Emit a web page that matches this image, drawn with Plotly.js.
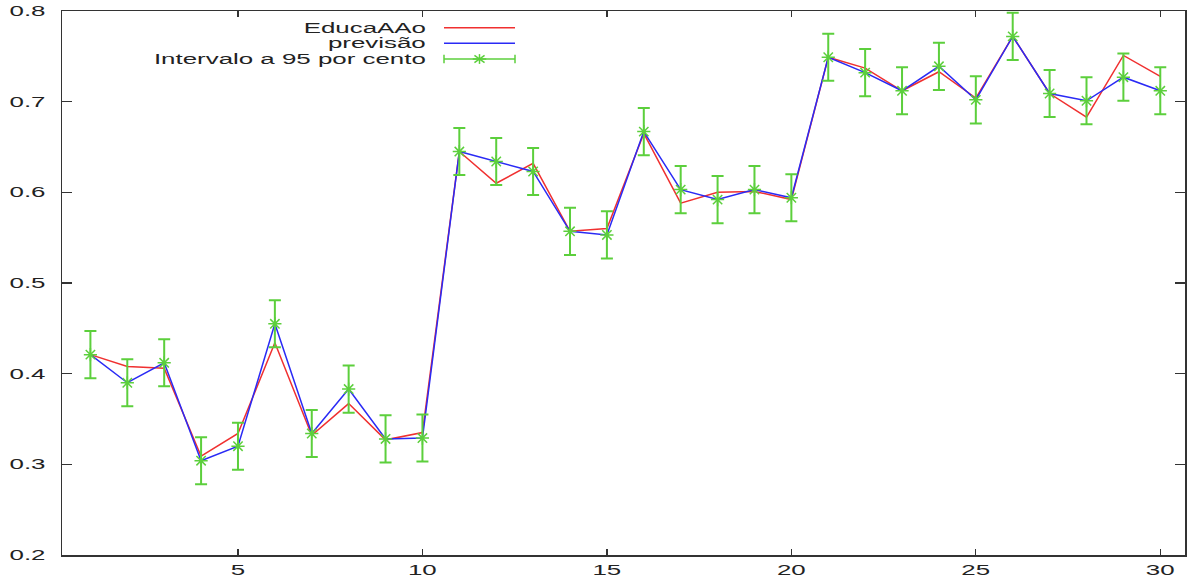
<!DOCTYPE html>
<html>
<head>
<meta charset="utf-8">
<script src="https://cdn.plot.ly/plotly-3.0.1.min.js"></script>
<style>html,body{margin:0;padding:0;background:#fff;}#chart{width:1187px;height:577px;}</style>
</head>
<body>
<div id="chart"></div>
<script>
var periodos = [1,2,3,4,5,6,7,8,9,10,11,12,13,14,15,16,17,18,19,20,21,22,23,24,25,26,27,28,29,30];
var educacao = [0.421,0.408,0.406,0.309,0.334,0.434,0.332,0.367,0.327,0.335,
                0.645,0.610,0.632,0.557,0.560,0.665,0.588,0.600,0.601,0.592,
                0.749,0.737,0.712,0.733,0.704,0.772,0.709,0.683,0.751,0.728];
var previsao = [0.421,0.390,0.412,0.304,0.320,0.455,0.334,0.383,0.328,0.329,
                0.645,0.634,0.623,0.557,0.553,0.667,0.603,0.592,0.603,0.594,
                0.749,0.732,0.712,0.739,0.702,0.772,0.709,0.701,0.727,0.712];
var erro = [0.026,0.026,0.026,0.026,0.026,0.026,0.026,0.026,0.026,0.026,
            0.026,0.026,0.026,0.026,0.026,0.026,0.026,0.026,0.026,0.026,
            0.026,0.026,0.026,0.026,0.026,0.026,0.026,0.026,0.026,0.026];
var nomes = ['EducaAAo', 'previsão', 'Intervalo a 95 por cento'];
var cores = ['#f03030', '#2a2af5', '#5ccf3c'];
var yTicks = [0.2,0.3,0.4,0.5,0.6,0.7,0.8];
var xTicks = [5,10,15,20,25,30];

var traces = [
  {x: periodos, y: educacao, mode: 'lines', name: nomes[0], line: {color: cores[0], width: 1.5}, showlegend: false},
  {x: periodos, y: previsao, mode: 'lines', name: nomes[1], line: {color: cores[1], width: 1.5}, showlegend: false},
  {x: periodos, y: previsao, mode: 'markers', name: nomes[2],
   marker: {symbol: 'asterisk-open', size: 11, color: cores[2], line: {color: cores[2], width: 1.5}},
   error_y: {type: 'data', array: erro, visible: true, color: cores[2], thickness: 2, width: 6},
   showlegend: false}
];

// legend drawn in paper coordinates (plot area 62..1185 x 11..555)
function px(p) { return (p - 62) / 1123; }
function py(p) { return (555 - p) / 544; }
var lx0 = px(444), lx1 = px(515), ltx = px(428);
var rows = [py(27.7), py(43.3), py(59)];
var shapes = [];
var annotations = [];
for (var i = 0; i < 3; i++) {
  annotations.push({xref: 'paper', yref: 'paper', x: ltx, y: rows[i], xanchor: 'right', yanchor: 'middle',
    text: nomes[i], showarrow: false, font: {family: 'Liberation Sans, Arial, sans-serif', size: 14, color: '#222'}});
  shapes.push({type: 'line', xref: 'paper', yref: 'paper', x0: lx0, x1: lx1, y0: rows[i], y1: rows[i],
    line: {color: cores[i], width: 1.5}});
}
var capH = 0.008;
shapes.push({type: 'line', xref: 'paper', yref: 'paper', x0: lx0, x1: lx0, y0: rows[2]-capH, y1: rows[2]+capH, line: {color: cores[2], width: 1.5}});
shapes.push({type: 'line', xref: 'paper', yref: 'paper', x0: lx1, x1: lx1, y0: rows[2]-capH, y1: rows[2]+capH, line: {color: cores[2], width: 1.5}});
var cx = (lx0 + lx1) / 2, dx = 0.006, dy = 0.009;
shapes.push({type: 'line', xref: 'paper', yref: 'paper', x0: cx-dx, x1: cx+dx, y0: rows[2], y1: rows[2], line: {color: cores[2], width: 1.5}});
shapes.push({type: 'line', xref: 'paper', yref: 'paper', x0: cx, x1: cx, y0: rows[2]-dy, y1: rows[2]+dy, line: {color: cores[2], width: 1.5}});
shapes.push({type: 'line', xref: 'paper', yref: 'paper', x0: cx-dx*0.75, x1: cx+dx*0.75, y0: rows[2]-dy*0.75, y1: rows[2]+dy*0.75, line: {color: cores[2], width: 1.5}});
shapes.push({type: 'line', xref: 'paper', yref: 'paper', x0: cx-dx*0.75, x1: cx+dx*0.75, y0: rows[2]+dy*0.75, y1: rows[2]-dy*0.75, line: {color: cores[2], width: 1.5}});

var layout = {
  width: 1187, height: 577,
  margin: {l: 62, r: 2, t: 11, b: 22, pad: 0},
  paper_bgcolor: '#fff', plot_bgcolor: '#fff',
  showlegend: false,
  font: {family: 'Liberation Sans, Arial, sans-serif', size: 14, color: '#222'},
  xaxis: {
    range: [0.23, 30.67], tickvals: xTicks, ticktext: xTicks.map(String),
    showgrid: false, zeroline: false, showline: true, linecolor: '#333', linewidth: 1.5,
    mirror: 'allticks', ticks: 'inside', ticklen: 6, tickwidth: 1.2, tickcolor: '#333',
    tickfont: {size: 14, color: '#222'}, ticklabelstandoff: 2
  },
  yaxis: {
    range: [0.2, 0.8], tickvals: yTicks, ticktext: yTicks.map(function(v){return v.toFixed(1);}),
    showgrid: false, zeroline: false, showline: true, linecolor: '#333', linewidth: 1.5,
    mirror: 'allticks', ticks: 'inside', ticklen: 10, tickwidth: 1.2, tickcolor: '#333',
    tickfont: {size: 14, color: '#222'}, ticklabelstandoff: 12
  },
  shapes: shapes,
  annotations: annotations
};

// the reference typeface is horizontally stretched; widen the real text glyphs
function widenText(gd, sx) {
  var texts = gd.querySelectorAll('svg text');
  texts.forEach(function(t) {
    var bb = t.getBBox();
    if (!bb.width) return;
    var isAnn = !!t.closest('.annotation');
    var anchor = t.getAttribute('text-anchor') || 'start';
    var a;
    if (isAnn) a = bb.x + bb.width;
    else if (anchor === 'end') a = bb.x + bb.width;
    else if (anchor === 'middle') a = bb.x + bb.width / 2;
    else a = bb.x;
    var tr = t.getAttribute('transform') || '';
    t.setAttribute('transform', tr + ' translate(' + a + ',0) scale(' + sx + ',1) translate(' + (-a) + ',0)');
  });
}
Plotly.newPlot('chart', traces, layout, {staticPlot: true, displayModeBar: false}).then(function(gd) {
  widenText(gd, 1.85);
});
</script>
</body>
</html>
